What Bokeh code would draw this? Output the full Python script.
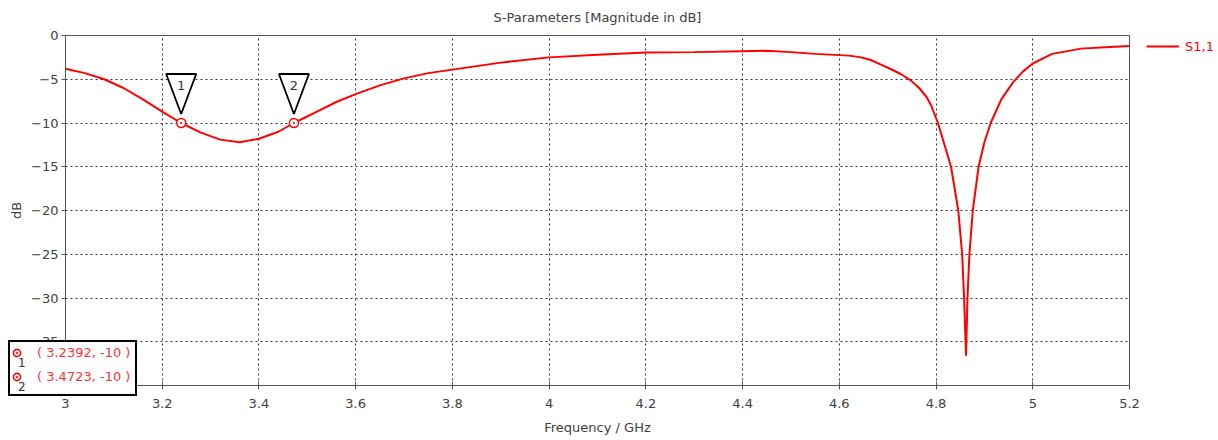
from bokeh.plotting import figure
from bokeh.layouts import column
from bokeh.models import (FixedTicker, Legend, LegendItem, Range1d, Div)
from bokeh.core.properties import value
from bokeh.embed import file_html
from bokeh.resources import INLINE

# ---- data ----
freq = [3.00, 3.04, 3.08, 3.12, 3.16, 3.20, 3.2392, 3.28, 3.32, 3.36, 3.40, 3.44, 3.4723,
        3.52, 3.56, 3.60, 3.65, 3.70, 3.75, 3.80, 3.90, 4.00, 4.10, 4.20, 4.30, 4.40, 4.45,
        4.50, 4.55, 4.62, 4.645, 4.665, 4.685, 4.705, 4.727, 4.747, 4.765, 4.78, 4.79,
        4.804, 4.831, 4.846, 4.854, 4.858, 4.862, 4.865, 4.869, 4.876, 4.888, 4.90, 4.913,
        4.935, 4.96, 4.98, 5.00, 5.04, 5.10, 5.15, 5.20]
s11 = [-3.8, -4.3, -5.0, -6.0, -7.3, -8.7, -10.0, -11.1, -11.9, -12.2, -11.8, -11.0, -10.0,
       -8.7, -7.6, -6.7, -5.7, -4.9, -4.3, -3.9, -3.1, -2.5, -2.2, -1.95, -1.9, -1.8, -1.75,
       -1.9, -2.1, -2.3, -2.5, -2.8, -3.3, -3.8, -4.4, -5.1, -6.0, -7.0, -8.0,
       -10.0, -15.0, -20.0, -25.0, -30.0, -36.6, -30.0, -25.0, -20.0, -15.0, -12.2, -10.0,
       -7.3, -5.3, -4.1, -3.2, -2.1, -1.5, -1.35, -1.2]
marker_ids = ["1", "2"]
marker_freq = [3.2392, 3.4723]
marker_db = [-10, -10]
x_ticks = [3.0, 3.2, 3.4, 3.6, 3.8, 4.0, 4.2, 4.4, 4.6, 4.8, 5.0, 5.2]
y_ticks = [0, -5, -10, -15, -20, -25, -30, -35]
series_name = "S1,1"

FW, FH = 1064, 350
X0, X1 = 3.0, 5.2
Y0, Y1 = -40.0, 0.0
FONT = "DejaVu Sans"
GREY = "#404040"

p = figure(frame_width=FW, frame_height=FH,
           x_range=Range1d(X0, X1), y_range=Range1d(Y0, Y1),
           output_backend="svg", toolbar_location=None,
           min_border_left=65, min_border_right=88, min_border_top=35, min_border_bottom=45,
           title="S-Parameters [Magnitude in dB]")
p.title.align = "center"
p.title.vertical_align = "top"
p.title.text_font = FONT
p.title.text_font_size = "13px"
p.title.text_font_style = "normal"
p.title.text_color = GREY
p.title.standoff = 17

p.outline_line_color = "#555555"
p.outline_line_width = 1
p.background_fill_color = "white"
p.border_fill_color = "white"

for ax in (p.xaxis[0], p.yaxis[0]):
    ax.axis_line_color = "#555555"
    ax.major_tick_line_color = "#555555"
    ax.minor_tick_line_color = None
    ax.major_label_text_font = FONT
    ax.major_label_text_font_size = "13px"
    ax.major_label_text_color = GREY
    ax.axis_label_text_font = FONT
    ax.axis_label_text_font_size = "13px"
    ax.axis_label_text_font_style = "normal"
    ax.axis_label_text_color = GREY

p.xaxis.ticker = FixedTicker(ticks=x_ticks)
p.yaxis.ticker = FixedTicker(ticks=y_ticks)
p.xaxis.major_label_overrides = {t: ("%g" % t) for t in x_ticks}
p.xaxis.major_tick_in = 4
p.xaxis.major_tick_out = 4
p.xaxis.major_label_standoff = 9
p.xaxis.axis_label = "Frequency / GHz"
p.xaxis.axis_label_standoff = 9
p.yaxis.major_tick_in = 0
p.yaxis.major_tick_out = 4
p.yaxis.major_label_standoff = 3
p.yaxis.axis_label = "dB"
p.yaxis.axis_label_standoff = 4

p.grid.grid_line_color = "#333333"
p.grid.grid_line_dash = "2 3"
p.grid.grid_line_width = 1

r = p.line(freq, s11, line_color="#ff0000", line_width=2)

# marker triangles (sizes in pixels converted to data units)
ux = (X1 - X0) / FW
uy = (Y1 - Y0) / FH
tri_xs = [[f - 15 * ux, f + 15 * ux, f] for f in marker_freq]
tri_ys = [[d + 49 * uy, d + 49 * uy, d + 9 * uy] for d in marker_db]
p.patches(tri_xs, tri_ys, fill_color="white", line_color="black", line_width=1.8)
p.text(marker_freq, [d + 37.5 * uy for d in marker_db], text=marker_ids,
       text_align="center", text_baseline="middle", text_font=value(FONT),
       text_font_size="13px", text_color="#333333")
p.scatter(marker_freq, marker_db, marker="circle_dot", size=9, line_color="#ff0000",
          fill_color="white", line_width=1.5)

# legend
leg = Legend(items=[LegendItem(label=series_name, renderers=[r])],
             location=(17, 329), margin=0, padding=0, glyph_width=33, glyph_height=20,
             label_standoff=6, border_line_color=None, background_fill_alpha=0,
             label_text_color="#ff0000", label_text_font=FONT, label_text_font_size="13px")
p.add_layout(leg, "right")

# marker info box (overlaps frame and axes, so built as an HTML overlay)
icon = ('<svg width="10" height="10" style="position:absolute;left:2px;top:%dpx">'
        '<circle cx="5" cy="5" r="3.6" fill="white" stroke="#ff0000" stroke-width="1.6"/>'
        '<circle cx="5" cy="5" r="1.1" fill="#ff0000"/></svg>')
rows = []
for i, (mid, f, d) in enumerate(zip(marker_ids, marker_freq, marker_db)):
    top = 6 + 24 * i
    rows.append(icon % top)
    rows.append('<span style="position:absolute;left:8px;top:%dpx;color:#333;font-size:12px;'
                'line-height:14px">%s</span>' % (top + 8, mid))
    rows.append('<span style="position:absolute;left:27px;top:%dpx;color:#ff3333;'
                'white-space:nowrap">( %s, %g )</span>' % (top - 3, f, d))
box_html = ('<div style="position:relative;margin:0;width:125px;height:52px;'
            'border:2px solid black;background:white;font-family:\'DejaVu Sans\';'
            'font-size:13px;line-height:16px;overflow:hidden;box-sizing:content-box">'
            + "".join(rows) + '</div>')
box = Div(text=box_html, width=150, height=70,
          styles={"position": "absolute", "left": "3px", "top": "335px", "z-index": "10"},
          stylesheets=[":host { position: absolute !important; left: 3px !important; "
                       "top: 335px !important; z-index: 10 !important; }"])

page = column(p, box)
open("out.html", "w").write(file_html(page, INLINE))
